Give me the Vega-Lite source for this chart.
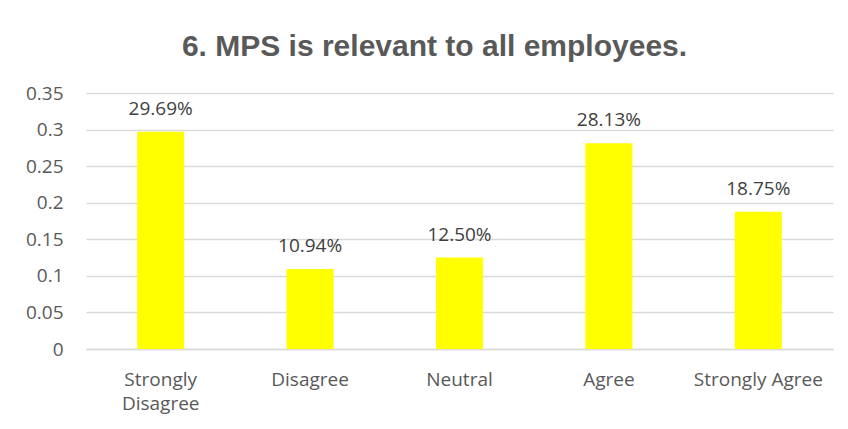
{
  "$schema": "https://vega.github.io/schema/vega-lite/v6.json",
  "width": 747,
  "height": 256,
  "autosize": {"type": "none"},
  "padding": {"left": 86, "top": 93, "right": 15, "bottom": 80},
  "background": "white",
  "title": {
    "text": "6. MPS is relevant to all employees.",
    "font": "Liberation Sans",
    "fontSize": 30,
    "fontWeight": "bold",
    "color": "#595959",
    "anchor": "middle",
    "dx": -25,
    "offset": 22
  },
  "config": {
    "view": {"stroke": null},
    "axis": {
      "labelFont": "Open Sans",
      "labelFontSize": 19,
      "labelColor": "#595959",
      "ticks": false,
      "titleFontSize": 0
    }
  },
  "data": {
    "values": [
      {"response": "Strongly Disagree", "share": 0.2969},
      {"response": "Disagree", "share": 0.1094},
      {"response": "Neutral", "share": 0.125},
      {"response": "Agree", "share": 0.2813},
      {"response": "Strongly Agree", "share": 0.1875}
    ]
  },
  "encoding": {
    "x": {
      "field": "response",
      "type": "nominal",
      "sort": null,
      "title": null,
      "scale": {"paddingInner": 0.685, "paddingOuter": 0.3425},
      "axis": {
        "labelAngle": 0,
        "labelPadding": 21,
        "labelLineHeight": 24,
        "labelLimit": 200,
        "domainColor": "#d9d9d9",
        "domainWidth": 1.5,
        "labelExpr": "datum.value == 'Strongly Disagree' ? ['Strongly', 'Disagree'] : datum.value"
      }
    },
    "y": {
      "field": "share",
      "type": "quantitative",
      "title": null,
      "scale": {"domain": [0, 0.35], "nice": false},
      "axis": {
        "values": [0, 0.05, 0.1, 0.15, 0.2, 0.25, 0.3, 0.35],
        "labelExpr": "format(datum.value, '.2~f')",
        "domain": false,
        "gridColor": "#d9d9d9",
        "gridWidth": 1.5,
        "labelPadding": 23
      }
    }
  },
  "layer": [
    {"mark": {"type": "bar", "color": "#ffff00"}},
    {
      "mark": {
        "type": "text",
        "font": "Open Sans",
        "fontSize": 19,
        "color": "#404040",
        "baseline": "alphabetic",
        "dy": -17
      },
      "encoding": {
        "text": {"field": "share", "type": "quantitative", "format": ".2%"}
      }
    }
  ]
}
